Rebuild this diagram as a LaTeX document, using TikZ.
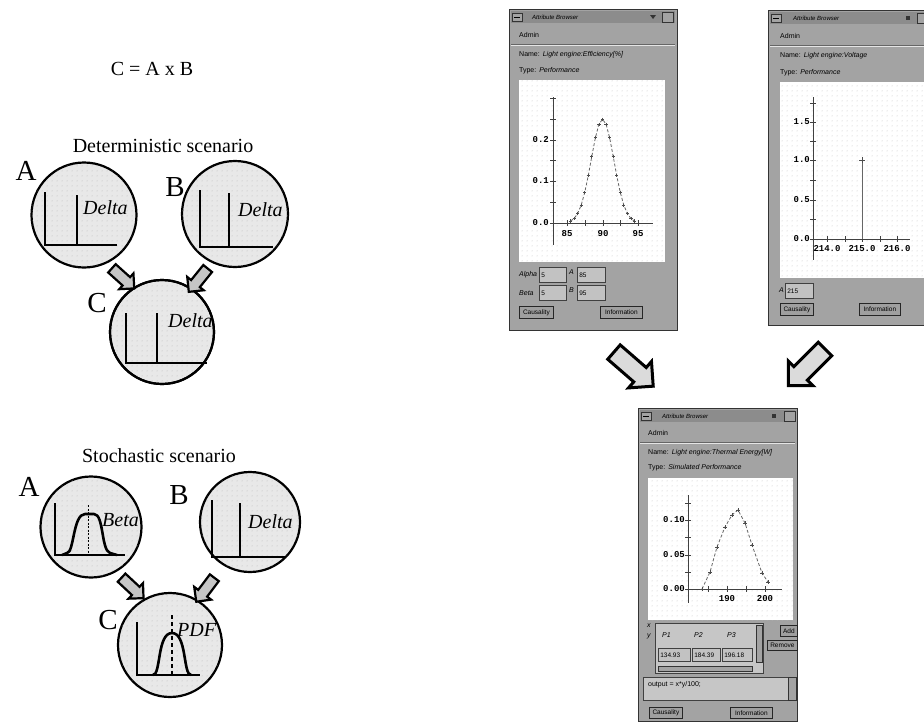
\documentclass[tikz,border=0pt]{standalone}
\usepackage{fontspec}
\setmainfont{Liberation Serif}
\newfontfamily\uisans{Liberation Sans}
\newfontfamily\uimono{Liberation Mono}
\usetikzlibrary{shapes.arrows,calc,patterns.meta}

\definecolor{winbg}{gray}{0.64}
\definecolor{winbar}{gray}{0.55}
\definecolor{circfill}{gray}{0.91}

\tikzdeclarepattern{
  name=stip,
  type=uncolored,
  bottom left={(0pt,0pt)},
  top right={(5pt,5pt)},
  tile size={(5pt,5pt)},
  code={\fill (2.5pt,2.5pt) circle[radius=0.55pt];}
}

\tikzset{
  circ/.style={circle, draw=black, line width=2.2pt, fill=circfill, inner sep=0pt, minimum size=#1,
    postaction={pattern=stip, pattern color=gray!60}},
  axisline/.style={line width=2.6pt, black},
  distline/.style={line width=2.6pt, black, line join=round},
  lbl/.style={font=\fontsize{29}{29}\selectfont, inner sep=0pt},
  dist/.style={font=\fontsize{20}{20}\selectfont\itshape, inner sep=0pt, anchor=west},
  ttl/.style={font=\fontsize{20}{24}\selectfont, inner sep=0pt, anchor=base},
  smallarrow/.style={single arrow, draw=black, fill=gray!45, line width=2.2pt, minimum height=30pt,
    minimum width=0pt, single arrow head extend=5pt, inner xsep=0pt, inner ysep=4.5pt},
  bigarrow/.style={single arrow, draw=black, fill=gray!28, line width=3pt, minimum height=52pt,
    minimum width=0pt, single arrow head extend=8pt, inner xsep=0pt, inner ysep=8pt},
  win/.style={draw=black!80, fill=winbg, line width=1.2pt, inner sep=0pt},
  wt/.style={font=\uisans\fontsize{7}{8}\selectfont, inner sep=0pt, anchor=west},
  wti/.style={font=\uisans\itshape\fontsize{7}{8}\selectfont, inner sep=0pt, anchor=west},
  wtitle/.style={font=\uisans\itshape\fontsize{6}{7}\selectfont, inner sep=0pt, anchor=west},
  axlab/.style={font=\uimono\bfseries\fontsize{9}{9}\selectfont, inner sep=0pt},
  axc/.style={black!75, line width=0.9pt},
  curve/.style={black!60, line width=0.8pt, densely dashed, mark options={solid, black!70}},
  plotbg/.style={fill=white, postaction={pattern=stip, pattern color=gray!55}},
  fld/.style={draw=black!75, fill=gray!48, line width=0.6pt, anchor=north west, minimum height=15pt,
    inner xsep=2pt, inner ysep=0pt, text width=#1, font=\uisans\fontsize{6.5}{7}\selectfont},
  btn/.style={draw=black!85, fill=gray!75, line width=0.8pt, anchor=north west, minimum height=12pt,
    inner sep=0.5pt, minimum width=#1, font=\uisans\fontsize{6.5}{7}\selectfont},
  tbar/.style={fill=winbar},
  tbtn/.style={draw=black!80, fill=gray!72, line width=0.6pt},
}

\begin{document}
\begin{tikzpicture}[x=1pt,y=-1pt]
\useasboundingbox (0,0) rectangle (924,723);
\clip (0,0) rectangle (924,723);

% ---------------- left: titles ----------------
\node[ttl] (eq) at (152,75) {C = A x B};
\node[ttl] (det) at (163,152) {Deterministic scenario};
\node[ttl] (sto) at (159,462) {Stochastic scenario};

% ---------------- deterministic ----------------
\node[circ=105pt] (dA) at (84,215) {};
\node[circ=106pt] (dB) at (235,214) {};
\node[circ=104pt] (dC) at (162,332) {};

\draw[axisline] (45,192) -- (45,245) -- (117,245);
\draw[axisline] (77,195) -- (77,245);
\node[dist] (dAt) at (83,208) {Delta};

\draw[axisline] (200,190) -- (200,247) -- (273,247);
\draw[axisline] (229,193) -- (229,247);
\node[dist] (dBt) at (238,210) {Delta};

\draw[axisline] (126,313) -- (126,363) -- (207,363);
\draw[axisline] (157,313) -- (157,363);
\begin{scope}
  \clip (dC.center) circle[radius=51];
  \node[dist] (dCt) at (168,321) {Delta};
\end{scope}
\draw[line width=2.2pt] (dC.center) circle[radius=52];

\node[smallarrow, rotate=-42] (dAC) at ($(dA)!0.5!(dC)+(-2,3)$) {};
\node[smallarrow, rotate=-129] (dBC) at ($(dB)!0.5!(dC)+(1.5,5)$) {};

\node[lbl] (dAl) at (26,171) {A};
\node[lbl] (dBl) at (175,187) {B};
\node[lbl] (dCl) at (97,303) {C};

% ---------------- stochastic ----------------
\node[circ=101pt] (sA) at (91,527) {};
\node[circ=100pt] (sB) at (250,522) {};
\node[circ=104pt] (sC) at (170,645) {};

\draw[axisline] (55,503) -- (55,555) -- (125,555);
\draw[black, line width=0.6pt, dash pattern=on 2pt off 1.5pt] (88,505) -- (88,555);
\draw[distline] (62,555) -- (67,553) .. controls (74,553) and (73,514) .. (85,514)
  -- (94,514) .. controls (104,514) and (101,550) .. (110,553) -- (117,555);
\node[dist] (sAt) at (102,520) {Beta};

\draw[axisline] (212,500) -- (212,557) -- (285,557);
\draw[axisline] (240,503) -- (240,557);
\node[dist] (sBt) at (248,522) {Delta};

\draw[axisline] (137,622) -- (137,675) -- (200,675);
\draw[distline] (153,675) .. controls (161,675) and (157,633) .. (172,633)
  .. controls (187,633) and (183,675) .. (191,675);
\draw[line width=2pt, dash pattern=on 4pt off 3pt] (172,615) -- (172,675);
\node[dist] (sCt) at (177,630) {PDF};

\node[smallarrow, rotate=-43] (sAC) at ($(sA)!0.5!(sC)$) {};
\node[smallarrow, rotate=-127] (sBC) at ($(sB)!0.5!(sC)+(-3,4)$) {};

\node[lbl] (sAl) at (29,487) {A};
\node[lbl] (sBl) at (179,495) {B};
\node[lbl] (sCl) at (108,620) {C};

% ---------------- window 1 ----------------
\node[win, anchor=north west, minimum width=168pt, minimum height=321pt] (w1) at (509,9) {};
\fill[tbar] (511,11) rectangle (675,23);
\draw[tbtn] (512,13) rectangle (522,21); \draw (514,17) -- (520,17);
\node[wtitle] (w1title) at (532,17) {Attribute Browser};
\fill[black!80] (650,15) -- (656,15) -- (653,19) -- cycle;
\draw[tbtn] (662,12) rectangle (673,22);
\node[wt] (w1adm) at (519,35) {Admin};
\draw[black!60] (511,44) -- (675,44); \draw[gray!20] (511,45) -- (675,45);
\node[wt] (w1name) at (519,55) {Name:\hspace{3pt}\itshape Light engine:Efficiency[\%]};
\node[wt] (w1type) at (519,71) {Type:\hspace{3pt}\itshape Performance};
\path[plotbg] (519,80) rectangle (665,262);
\draw[axc] (553,97) -- (553,245);
\draw[axc] (553,223) -- (653,223);
\foreach \ty in {223,202.25,181.5,160.75,140,119.25,98.5} \draw[axc] (550,\ty) -- (556,\ty);
\foreach \tx in {567,585,603,620,638} \draw[axc] (\tx,220) -- (\tx,226);
\node[axlab, anchor=east] (w1y2) at (549,140) {0.2};
\node[axlab, anchor=east] (w1y1) at (549,181) {0.1};
\node[axlab, anchor=east] (w1y0) at (549,223) {0.0};
\node[axlab] (w1x85) at (567,234) {85};
\node[axlab] (w1x90) at (603,234) {90};
\node[axlab] (w1x95) at (638,234) {95};
\draw[curve] plot[domain=85.5:94.5, samples=19, mark=+, mark size=1.6pt]
  ({567+(\x-85)*7.1},{223-103.75*exp(-((\x-90)*(\x-90))/5.12)});
\node[wti] (w1al) at (519,275) {Alpha};
\node[fld=23pt] (w1fa) at (539,267) {5};
\node[wti] (w1A) at (569,272) {A};
\node[fld=24pt] (w1fA) at (577,267) {85};
\node[wti] (w1be) at (519,293) {Beta};
\node[fld=23pt] (w1fb) at (539,285) {5};
\node[wti] (w1B) at (569,290) {B};
\node[fld=24pt] (w1fB) at (577,285) {95};
\node[btn=34pt] (w1c) at (519,306) {Causality};
\node[btn=42pt] (w1i) at (600,306) {Information};

% ---------------- window 2 ----------------
\node[win, anchor=north west, minimum width=170pt, minimum height=315pt] (w2) at (768,10) {};
\fill[tbar] (770,12) rectangle (936,24);
\draw[tbtn] (771,14) rectangle (781,22); \draw (773,18) -- (779,18);
\node[wtitle] (w2title) at (793,18) {Attribute Browser};
\fill[black!80] (906,16) rectangle (910,20);
\draw[tbtn] (917,13) rectangle (928,23);
\node[wt] (w2adm) at (780,36) {Admin};
\draw[black!60] (770,45) -- (936,45); \draw[gray!20] (770,46) -- (936,46);
\node[wt] (w2name) at (780,56) {Name:\hspace{3pt}\itshape Light engine:Voltage};
\node[wt] (w2type) at (780,73) {Type:\hspace{3pt}\itshape Performance};
\path[plotbg] (780,82) rectangle (936,278);
\draw[axc] (813,97) -- (813,260);
\draw[axc] (813,239) -- (910,239);
\foreach \ty in {239,219.5,200,180,160,141,122,103} \draw[axc] (810,\ty) -- (816,\ty);
\foreach \tx in {827,845,862,880,897} \draw[axc] (\tx,236) -- (\tx,242);
\node[axlab, anchor=east] (w2y15) at (810,122) {1.5};
\node[axlab, anchor=east] (w2y10) at (810,160) {1.0};
\node[axlab, anchor=east] (w2y05) at (810,200) {0.5};
\node[axlab, anchor=east] (w2y00) at (810,239) {0.0};
\node[axlab] (w2x214) at (827,249) {214.0};
\node[axlab] (w2x215) at (862,249) {215.0};
\node[axlab] (w2x216) at (897,249) {216.0};
\draw[curve, solid] (862,160) -- (862,239);
\draw[black!70, line width=0.8pt] (859,160) -- (865,160) (862,157) -- (862,163);
\node[wti] (w2A) at (779,290) {A};
\node[fld=24pt] (w2fA) at (785,283) {215};
\node[btn=33pt] (w2c) at (780,303) {Causality};
\node[btn=41pt] (w2i) at (859,303) {Information};

% ---------------- window 3 ----------------
\node[win, anchor=north west, minimum width=159pt, minimum height=313pt] (w3) at (638,408) {};
\fill[tbar] (640,410) rectangle (795,422);
\draw[tbtn] (641,412) rectangle (651,420); \draw (643,416) -- (649,416);
\node[wtitle] (w3title) at (662,416) {Attribute Browser};
\fill[black!80] (772,414) rectangle (776,418);
\draw[tbtn] (784,411) rectangle (795,421);
\node[wt] (w3adm) at (648,433) {Admin};
\draw[black!60] (640,442) -- (795,442); \draw[gray!20] (640,443) -- (795,443);
\node[wt] (w3name) at (648,453) {Name:\hspace{3pt}\itshape Light engine:Thermal Energy[W]};
\node[wt] (w3type) at (648,468) {Type:\hspace{3pt}\itshape Simulated Performance};
\path[plotbg] (648,478) rectangle (793,620);
\draw[axc] (688,495) -- (688,603);
\draw[axc] (688,589) -- (782,589);
\foreach \ty in {589,572,555,537.5,520,503} \draw[axc] (685,\ty) -- (691,\ty);
\foreach \tx in {708,727,746,765} \draw[axc] (\tx,586) -- (\tx,592);
\node[axlab, anchor=east] (w3y10) at (685,520) {0.10};
\node[axlab, anchor=east] (w3y05) at (685,555) {0.05};
\node[axlab, anchor=east] (w3y00) at (685,589) {0.00};
\node[axlab] (w3x190) at (727,599) {190};
\node[axlab] (w3x200) at (765,599) {200};
\draw[curve] plot[mark=+, mark size=1.6pt] coordinates {(702,589) (710,572) (717,547) (725,527)
  (732,515) (738,510) (745,523) (752,545) (762,573) (768,582)};
\node[wti] (w3xl) at (647,626) {x};
\node[wti] (w3yl) at (647,636) {y};
\draw[draw=black!75, fill=gray!45, line width=0.6pt] (655,623) rectangle (763,673);
\node[wti] (w3p1) at (662,635) {P1};
\node[wti] (w3p2) at (694,635) {P2};
\node[wti] (w3p3) at (727,635) {P3};
\node[fld=28pt, minimum height=13pt] (w3f1) at (658,648) {134.93};
\node[fld=24pt, minimum height=13pt] (w3f2) at (692,648) {184.39};
\node[fld=26pt, minimum height=13pt] (w3f3) at (722,648) {196.18};
\draw[tbtn] (756,625) rectangle (762,662);
\draw[tbtn] (658,666) rectangle (752,671);
\node[btn=17pt, minimum height=11pt] (w3add) at (780,625) {Add};
\node[btn=30pt, minimum height=10pt] (w3rem) at (767,640) {Remove};
\draw[draw=black!75, fill=gray!45, line width=0.6pt] (643,677) rectangle (788,700);
\node[wt] (w3out) at (648,685) {output = x*y/100;};
\draw[tbtn] (788,677) rectangle (796,700);
\node[btn=33pt, minimum height=11pt] (w3c) at (649,707) {Causality};
\node[btn=42pt, minimum height=11pt] (w3i) at (730,707) {Information};

% ---------------- big arrows ----------------
\node[bigarrow, rotate=-41] (ba1) at (630,366) {};
\node[bigarrow, rotate=-135] (ba2) at (810,364) {};

\end{tikzpicture}
\end{document}
